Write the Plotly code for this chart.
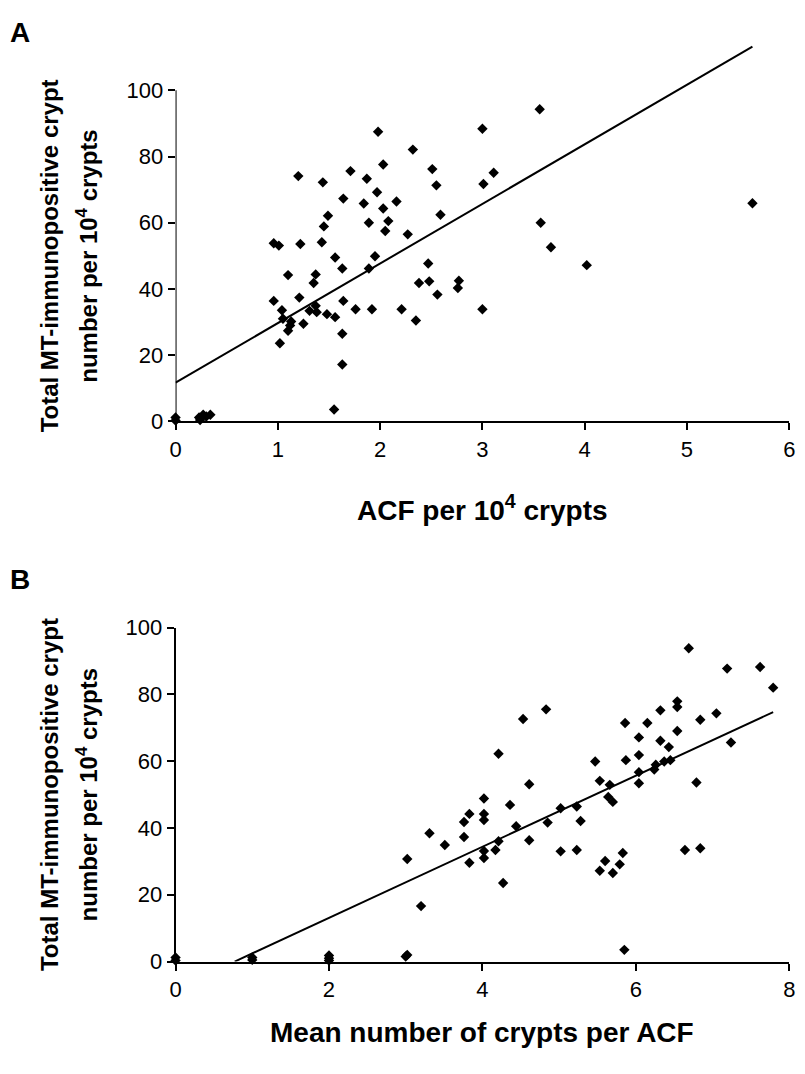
import subprocess
import numpy as np
import plotly.graph_objects as go

# Panel A: ACF per 10^4 crypts vs MT-immunopositive crypts
acf_x = [0, 0, 0.23, 0.24, 0.27, 0.30, 0.34,
         0.96, 1.01, 1.22, 1.43, 1.56, 1.95,
         1.98, 2.03, 1.20, 1.71, 1.44, 1.87, 1.97, 1.64, 1.84, 2.03, 1.89, 2.08, 2.05, 1.49, 1.45,
         1.63, 1.89, 1.10, 1.37, 1.35, 0.96, 1.21, 1.64, 1.76, 1.92, 1.04, 1.31, 1.37, 1.38,
         1.48, 1.56, 1.05, 1.13, 1.10, 1.12, 1.25, 1.63, 1.02, 1.63, 1.55,
         2.32, 2.51, 2.55, 3.00, 3.11, 3.01, 3.56, 2.16, 2.27, 2.59, 3.57, 3.67, 2.47, 2.38,
         2.48, 2.56, 2.77, 2.76, 2.21, 2.35, 3.00, 4.02, 5.64]
acf_y = [0.3, 1.2, 1.2, 0.4, 2.0, 1.5, 2.0,
         53.8, 53.1, 53.6, 54.1, 49.5, 49.9,
         87.5, 77.6, 74.1, 75.6, 72.2, 73.3, 69.2, 67.3, 65.8, 64.3, 60.0, 60.5, 57.5, 62.1, 58.9,
         46.2, 46.2, 44.2, 44.4, 41.8, 36.4, 37.4, 36.4, 33.9, 33.9, 33.6, 33.4, 34.9, 33.0,
         32.4, 31.5, 31.0, 30.2, 27.4, 29.0, 29.5, 26.5, 23.6, 17.2, 3.6,
         82.1, 76.2, 71.3, 88.4, 75.1, 71.7, 94.3, 66.4, 56.5, 62.4, 60.0, 52.6, 47.7, 41.8,
         42.3, 38.3, 42.5, 40.3, 33.9, 30.5, 33.9, 47.2, 65.9]
fit_a = (18.0, 11.7)  # slope, intercept

# Panel B: mean number of crypts per ACF
mean_x = [0, 0, 1, 1, 2, 2, 2, 3, 3.02, 5.85,
          4.83, 4.53, 4.21, 4.61, 4.02, 4.36, 5.02, 3.83, 4.02, 3.76, 4.02, 4.44, 4.85,
          3.31, 3.76, 3.51, 4.21, 4.17, 4.02, 4.02, 4.61, 5.02, 3.83, 3.02, 4.27, 3.20,
          6.69, 7.19, 7.62, 7.79, 6.54, 6.54, 6.32, 7.05, 5.86, 6.15, 6.84, 6.54, 6.04,
          6.32, 6.43, 7.24, 5.47, 5.87, 6.04, 6.26, 6.37, 6.45, 6.24, 6.04, 6.04, 6.79,
          5.53, 5.66, 5.64, 5.70, 5.23, 5.28, 5.23, 5.83, 5.60, 5.79, 5.53, 5.70, 6.64, 6.84]
mean_y = [0.3, 1.2, 0.5, 1.2, 0.3, 1.0, 1.8, 1.5, 2.0, 3.5,
          75.5, 72.6, 62.2, 53.1, 48.8, 46.9, 45.9, 44.2, 44.2, 41.8, 42.4, 40.5, 41.6,
          38.4, 37.3, 34.9, 36.0, 33.4, 33.1, 31.0, 36.3, 33.0, 29.6, 30.7, 23.5, 16.6,
          93.8, 87.7, 88.2, 82.0, 77.9, 76.2, 75.2, 74.3, 71.4, 71.4, 72.4, 69.0, 67.1,
          66.1, 64.2, 65.6, 59.9, 60.3, 61.8, 58.9, 59.9, 60.3, 57.5, 56.7, 53.4, 53.6,
          54.1, 52.9, 49.3, 47.8, 46.4, 42.1, 33.4, 32.5, 30.1, 29.1, 27.2, 26.5, 33.4, 33.9]
fit_b = (10.64, -8.2)

y_ticks = [0, 20, 40, 60, 80, 100]

W, H = 805, 1074
PAGE = 8  # the page body margin pushes the figure right and down by this much

# target positions in the picture (px)
LEFT, RIGHT = 172, 795
A_TOP, A_BOT = 80, 419
B_TOP, B_BOT = 630, 972
Y_EXTRA = 118  # panel A's fit line runs above 100, so the plot area goes higher


def px_x(p):
    return (p - PAGE) / W


def px_y(p):
    return 1 - (p - PAGE) / H


fig = go.Figure()

xa = np.array([0, max(acf_x)])
fig.add_trace(go.Scatter(x=xa, y=fit_a[0] * xa + fit_a[1], mode="lines",
                         line=dict(color="black", width=2), xaxis="x", yaxis="y"))
fig.add_trace(go.Scatter(x=acf_x, y=acf_y, mode="markers", cliponaxis=False,
                         marker=dict(symbol="diamond", size=8, color="black"),
                         xaxis="x", yaxis="y"))

xb = np.array([-fit_b[1] / fit_b[0], max(mean_x)])
fig.add_trace(go.Scatter(x=xb, y=fit_b[0] * xb + fit_b[1], mode="lines",
                         line=dict(color="black", width=2), xaxis="x2", yaxis="y2"))
fig.add_trace(go.Scatter(x=mean_x, y=mean_y, mode="markers", cliponaxis=False,
                         marker=dict(symbol="diamond", size=8, color="black"),
                         xaxis="x2", yaxis="y2"))

tick_font = dict(family="Liberation Sans, Arial", size=22, color="black")
axis_style = dict(linecolor="black", linewidth=2, ticks="outside", ticklen=7,
                  tickwidth=2, tickcolor="black", showgrid=False, zeroline=False,
                  tickfont=tick_font)

a_unit = (A_BOT - A_TOP) / 100
a_top_px = A_BOT - a_unit * Y_EXTRA

fig.update_layout(
    width=W, height=H, showlegend=False,
    plot_bgcolor="white", paper_bgcolor="white",
    margin=dict(l=0, r=0, t=0, b=0),
    xaxis=dict(domain=[px_x(LEFT), px_x(RIGHT)], range=[0, 6], dtick=1, anchor="y",
               showline=True, **axis_style),
    yaxis=dict(domain=[px_y(A_BOT), px_y(a_top_px)], range=[0, Y_EXTRA],
               tickvals=y_ticks, anchor="x", showline=False, **axis_style),
    xaxis2=dict(domain=[px_x(LEFT), px_x(RIGHT)], range=[0, 8], dtick=2, anchor="y2",
                showline=True, **axis_style),
    yaxis2=dict(domain=[px_y(B_BOT), px_y(B_TOP)], range=[0, 100], tickvals=y_ticks,
                anchor="x2", showline=True, **axis_style),
)

# y axis line of panel A, stopping at 100
fig.add_shape(type="line", xref="x", yref="y", x0=0, x1=0, y0=0, y1=max(y_ticks),
              line=dict(color="black", width=2))

# the y titles look condensed; use a narrow face if the system has one
try:
    families = subprocess.run(["fc-list", ":", "family"], capture_output=True,
                              text=True).stdout
except OSError:
    families = ""
if "Liberation Sans Narrow" in families:
    ytitle_font = dict(family="Liberation Sans Narrow", size=28, color="black",
                       weight="bold")
else:
    ytitle_font = dict(family="Liberation Sans, Arial", size=24, color="black",
                       weight="bold")
xtitle_font = dict(family="Liberation Sans, Arial", size=28, color="black", weight="bold")
panel_font = dict(family="Liberation Sans, Arial", size=28, color="black", weight="bold")

y_line1 = "Total MT-immunopositive crypt"
y_line2 = "number per 10<sup>4</sup> crypts"
x_mid = (LEFT + RIGHT) / 2

notes = [
    ("A", 14, 21, 0, panel_font),
    ("B", 14, 581, 0, panel_font),
    (y_line1, 44, (A_TOP + A_BOT) / 2, -90, ytitle_font),
    (y_line2, 82, (A_TOP + A_BOT) / 2, -90, ytitle_font),
    (y_line1, 44, (B_TOP + B_BOT) / 2, -90, ytitle_font),
    (y_line2, 82, (B_TOP + B_BOT) / 2, -90, ytitle_font),
    ("ACF per 10<sup>4</sup> crypts", x_mid, 508, 0, xtitle_font),
    ("Mean number of crypts per ACF", x_mid, 1045, 0, xtitle_font),
]
for text, x, y, angle, font in notes:
    fig.add_annotation(text=text, x=px_x(x), y=px_y(y), xref="paper", yref="paper",
                       showarrow=False, textangle=angle, font=font,
                       xanchor="center", yanchor="middle")

fig.write_html("out.html")
